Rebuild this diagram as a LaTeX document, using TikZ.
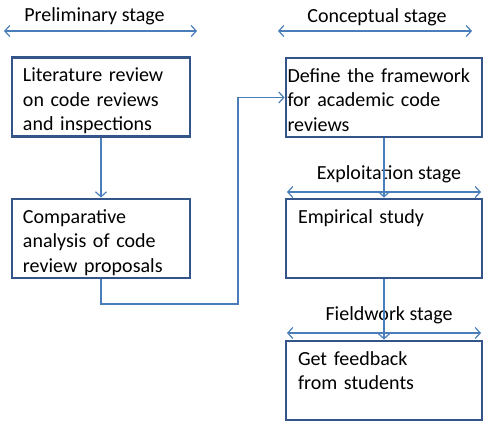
\documentclass[tikz,border=0pt]{standalone}
\usepackage{fontspec}
\setmainfont{Carlito}
\usetikzlibrary{arrows.meta}
\definecolor{boxblue}{HTML}{34558A}
\definecolor{lineblue}{HTML}{4A7EBB}
\tikzset{
  stagebox/.style={draw=boxblue, line width=2.9pt, fill=white, rectangle, align=left,
    inner ysep=0pt, text height=24pt, text depth=55pt, font=\fontsize{20}{24.5}\selectfont},
  stagelabel/.style={anchor=base, font=\fontsize{20}{24}\selectfont},
  flow/.style={draw=lineblue, line width=1.2pt, -{Straight Barb[length=5pt,width=11pt]}},
  span/.style={draw=lineblue, line width=1.2pt,
    {Straight Barb[length=5pt,width=11pt]}-{Straight Barb[length=5pt,width=11pt]}}
}
\begin{document}
\begin{tikzpicture}[x=1pt, y=-1pt]
\useasboundingbox (0,0) rectangle (485,424);
% stage headings
\node[stagelabel] (prelim) at (94.5,21) {Preliminary stage};
\node[stagelabel] (concept) at (377,22) {Conceptual stage};
\node[stagelabel] (exploit) at (389,179) {Exploitation stage};
\node[stagelabel] (field) at (389,320) {Fieldwork stage};
\coordinate (prelimL) at (4,31);
\coordinate (prelimR) at (197,31);
\coordinate (conceptL) at (278,31);
\coordinate (conceptR) at (472,31);
\coordinate (exploitL) at (287,192);
\coordinate (exploitR) at (481,192);
\coordinate (fieldL) at (287,333);
\coordinate (fieldR) at (481,333);

% boxes
\node[stagebox, minimum width=178pt, text width=156pt, inner xsep=11pt] (lit) at (101,97)
  {Literature review\\on code reviews\\and inspections};
\node[stagebox, minimum width=178pt, text width=156pt, inner xsep=11pt] (comp) at (101,238.5)
  {Comparative\\analysis of code\\review proposals};
\node[stagebox, minimum width=196pt, text width=193pt, inner xsep=1.5pt] (def) at (384,97.5)
  {Define the framework\\for academic code\\reviews};
\node[stagebox, minimum width=196pt, text width=172pt, inner xsep=12pt] (emp) at (384,238.5)
  {Empirical study};
\node[stagebox, minimum width=196pt, text width=172pt, inner xsep=12pt] (feed) at (384,380.5)
  {Get feedback\\from students};

% connectors
\draw[flow] (lit) -- (comp);
\coordinate (turn) at (238,304);
\draw[flow] (comp.south) |- (turn) |- (def.west);
\draw[flow] (def) -- (emp);
\draw[flow] (emp) -- (feed);

% stage spans
\draw[span] (prelimL) -- (prelimR);
\draw[span] (conceptL) -- (conceptR);
\draw[span] (exploitL) -- (exploitR);
\draw[span] (fieldL) -- (fieldR);
\end{tikzpicture}
\end{document}
